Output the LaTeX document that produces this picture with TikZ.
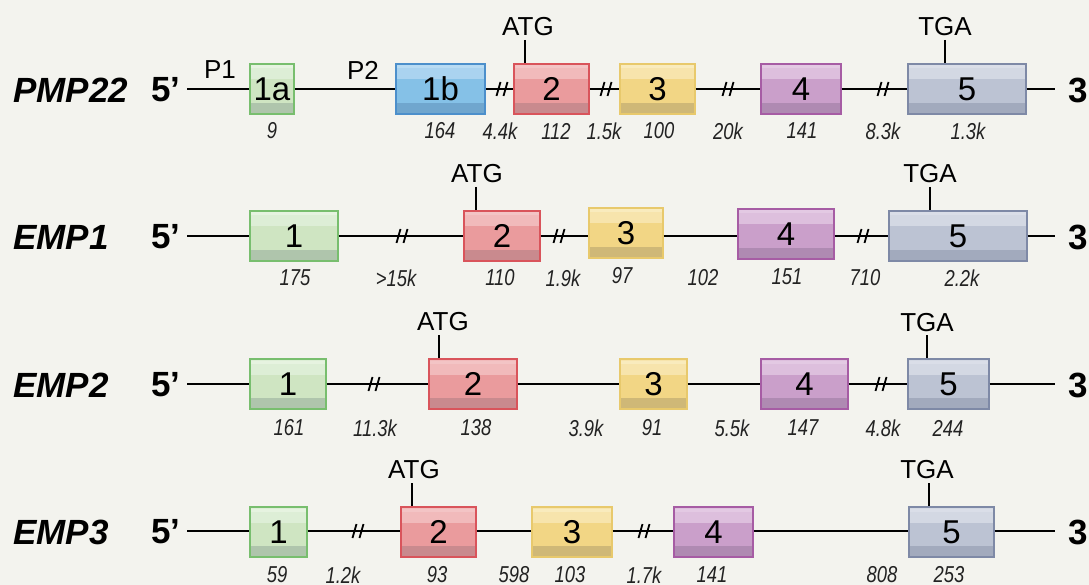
\documentclass[tikz,border=0pt]{standalone}
\usepackage{fontspec}
\setmainfont{Liberation Sans}
\newfontfamily\numfont[FakeStretch=0.8]{Liberation Sans}
\usetikzlibrary{calc}
\definecolor{bg}{HTML}{F3F3EE}
\definecolor{numcol}{HTML}{222222}
\definecolor{greenbase}{HTML}{CFE5C2}\definecolor{greenlight}{HTML}{DDEED6}\definecolor{greentop}{HTML}{E6F3E0}\definecolor{greendark}{HTML}{AFC5AC}\definecolor{greenline}{HTML}{78BE6E}
\definecolor{bluebase}{HTML}{85C1E7}\definecolor{bluelight}{HTML}{AAD3F0}\definecolor{bluetop}{HTML}{B8DBF3}\definecolor{bluedark}{HTML}{70A6CE}\definecolor{blueline}{HTML}{4C8FCB}
\definecolor{redbase}{HTML}{EA9B9D}\definecolor{redlight}{HTML}{F1BABB}\definecolor{redtop}{HTML}{F3C4C5}\definecolor{reddark}{HTML}{C98A8E}\definecolor{redline}{HTML}{D9545B}
\definecolor{yellowbase}{HTML}{F2D685}\definecolor{yellowlight}{HTML}{F7E4AC}\definecolor{yellowtop}{HTML}{F9EBBD}\definecolor{yellowdark}{HTML}{CFB877}\definecolor{yellowline}{HTML}{E8C96C}
\definecolor{purplebase}{HTML}{CA9FCA}\definecolor{purplelight}{HTML}{DDBFDD}\definecolor{purpletop}{HTML}{E3C9E3}\definecolor{purpledark}{HTML}{AF8AB2}\definecolor{purpleline}{HTML}{A65CA4}
\definecolor{graybase}{HTML}{BCC3D3}\definecolor{graylight}{HTML}{D3D8E3}\definecolor{graytop}{HTML}{DADEE8}\definecolor{graydark}{HTML}{A2AABD}\definecolor{grayline}{HTML}{7E89A6}
\tikzset{
  exon/.style={draw=#1line, fill=#1base, line width=1.2pt, minimum height=50pt, inner sep=0pt,
    font=\fontsize{33}{36}\selectfont,
    path picture={
      \fill[#1light] (path picture bounding box.north west) rectangle ($(path picture bounding box.north east)!0.31!(path picture bounding box.south east)$);
      \fill[#1top] ($(path picture bounding box.north west)!0.03!(path picture bounding box.south west)$) rectangle ($(path picture bounding box.north east)!0.09!(path picture bounding box.south east)$);
      \fill[#1dark] ($(path picture bounding box.north west)!0.78!(path picture bounding box.south west)$) rectangle (path picture bounding box.south east);
    }},
  dna/.style={line width=2.3pt, draw=black},
  ticker/.style={line width=2pt, draw=black},
  num/.style={font=\numfont\itshape\fontsize{23}{25}\selectfont, text=numcol, inner sep=0pt},
  gene/.style={font=\bfseries\itshape\fontsize{35}{40}\selectfont, anchor=west, inner sep=0pt},
  prime/.style={font=\bfseries\fontsize{35}{40}\selectfont, inner sep=0pt},
  codon/.style={font=\fontsize{26}{29}\selectfont, inner sep=0pt},
  brk/.pic={\draw[line width=1.8pt] (-5.5,7) -- (-1.5,-7) (1.5,7) -- (5.5,-7);}
}
\begin{document}
\begin{tikzpicture}[x=1pt,y=-1pt]
\fill[bg] (0,0) rectangle (1089,585);
\useasboundingbox (0,0) rectangle (1089,585);

% ---------- Row 1: PMP22 ----------
\node[gene] (g1) at (13,90) {PMP22};
\node[prime] (p51) at (166,90) {5’};
\node[prime,anchor=west] (p31) at (1068,90) {3’};
\coordinate (s1) at (187,89);
\coordinate (f1) at (1055,89);
\node[exon=green, minimum width=44pt] (e1a) at (272,89) {1a};
\node[exon=blue, minimum width=89pt] (e1b) at (440.5,89) {1b};
\node[exon=red, minimum width=75pt] (e12) at (551.5,89) {2};
\node[exon=yellow, minimum width=75pt] (e13) at (657.5,89) {3};
\node[exon=purple, minimum width=80pt] (e14) at (801,89) {4};
\node[exon=gray, minimum width=118pt] (e15) at (967,89) {5};
\draw[dna] (s1) -- (e1a.west) (e1a.east) -- (e1b.west) (e1b.east) -- (e12.west)
  (e12.east) -- (e13.west) (e13.east) -- (e14.west) (e14.east) -- (e15.west) (e15.east) -- (f1);
\pic at (502,89) {brk}; \pic at (606,89) {brk}; \pic at (728,89) {brk}; \pic at (883,89) {brk};
\node[codon] (pp1) at (220,70) {P1};
\node[codon] (pp2) at (363,70) {P2};
\node[codon] (atg1) at (528,27) {ATG};
\coordinate (ta1) at (525,40);
\draw[ticker] (ta1) -- (ta1 |- e12.north);
\node[codon] (tga1) at (945,27) {TGA};
\coordinate (tt1) at (945,40);
\draw[ticker] (tt1) -- (tt1 |- e15.north);
\node[num] (n11) at (272,131) {9};
\node[num] (n12) at (440,131) {164};
\node[num] (n13) at (500,131) {4.4k};
\node[num] (n14) at (556,131) {112};
\node[num] (n15) at (604,131) {1.5k};
\node[num] (n16) at (659,131) {100};
\node[num] (n17) at (728,131) {20k};
\node[num] (n18) at (802,131) {141};
\node[num] (n19) at (883,131) {8.3k};
\node[num] (n110) at (968,131) {1.3k};

% ---------- Row 2: EMP1 ----------
\node[gene] (g2) at (13,237) {EMP1};
\node[prime] (p52) at (166,237) {5’};
\node[prime,anchor=west] (p32) at (1068,237) {3’};
\coordinate (s2) at (187,236);
\coordinate (f2) at (1055,236);
\node[exon=green, minimum width=88pt] (e21) at (294,236) {1};
\node[exon=red, minimum width=76pt] (e22) at (502,236) {2};
\node[exon=yellow, minimum width=74pt] (e23) at (626,233) {3};
\node[exon=purple, minimum width=96pt] (e24) at (786,234) {4};
\node[exon=gray, minimum width=138pt] (e25) at (958,236) {5};
\draw[dna] (s2) -- (e21.west) (e21.east) -- (e22.west) (e22.east) -- (e23.west |- s2)
  (e23.east |- s2) -- (e24.west |- s2) (e24.east |- s2) -- (e25.west) (e25.east) -- (f2);
\pic at (402,236) {brk}; \pic at (559,236) {brk}; \pic at (863,236) {brk};
\node[codon] (atg2) at (477,174) {ATG};
\coordinate (ta2) at (476,187);
\draw[ticker] (ta2) -- (ta2 |- e22.north);
\node[codon] (tga2) at (930,174) {TGA};
\coordinate (tt2) at (930,187);
\draw[ticker] (tt2) -- (tt2 |- e25.north);
\node[num] (n21) at (295,278) {175};
\node[num] (n22) at (396,278) {>15k};
\node[num] (n23) at (500,278) {110};
\node[num] (n24) at (563,278) {1.9k};
\node[num] (n25) at (622,276) {97};
\node[num] (n26) at (703,278) {102};
\node[num] (n27) at (787,277) {151};
\node[num] (n28) at (865,278) {710};
\node[num] (n29) at (962,278) {2.2k};

% ---------- Row 3: EMP2 ----------
\node[gene] (g3) at (13,385) {EMP2};
\node[prime] (p53) at (166,385) {5’};
\node[prime,anchor=west] (p33) at (1068,385) {3’};
\coordinate (s3) at (187,384);
\coordinate (f3) at (1055,384);
\node[exon=green, minimum width=76pt] (e31) at (288,384) {1};
\node[exon=red, minimum width=88pt] (e32) at (473,384) {2};
\node[exon=yellow, minimum width=67pt] (e33) at (653.5,384) {3};
\node[exon=purple, minimum width=87pt] (e34) at (804.5,384) {4};
\node[exon=gray, minimum width=81pt] (e35) at (948.5,384) {5};
\draw[dna] (s3) -- (e31.west) (e31.east) -- (e32.west) (e32.east) -- (e33.west)
  (e33.east) -- (e34.west) (e34.east) -- (e35.west) (e35.east) -- (f3);
\pic at (374,384) {brk}; \pic at (881,384) {brk};
\node[codon] (atg3) at (443,322) {ATG};
\coordinate (ta3) at (439,335);
\draw[ticker] (ta3) -- (ta3 |- e32.north);
\node[codon] (tga3) at (927,323) {TGA};
\coordinate (tt3) at (927,335);
\draw[ticker] (tt3) -- (tt3 |- e35.north);
\node[num] (n31) at (289,428) {161};
\node[num] (n32) at (375,428) {11.3k};
\node[num] (n33) at (476,428) {138};
\node[num] (n34) at (586,428) {3.9k};
\node[num] (n35) at (652,428) {91};
\node[num] (n36) at (732,428) {5.5k};
\node[num] (n37) at (803,428) {147};
\node[num] (n38) at (883,428) {4.8k};
\node[num] (n39) at (948,428) {244};

% ---------- Row 4: EMP3 ----------
\node[gene] (g4) at (13,532) {EMP3};
\node[prime] (p54) at (166,532) {5’};
\node[prime,anchor=west] (p34) at (1068,532) {3’};
\coordinate (s4) at (187,531);
\coordinate (f4) at (1055,531);
\node[exon=green, minimum width=57pt] (e41) at (278.5,532) {1};
\node[exon=red, minimum width=75pt] (e42) at (438.5,532) {2};
\node[exon=yellow, minimum width=80pt] (e43) at (572,532) {3};
\node[exon=purple, minimum width=79pt] (e44) at (713.5,532) {4};
\node[exon=gray, minimum width=85pt] (e45) at (951.5,532) {5};
\draw[dna] (s4) -- (e41.west |- s4) (e41.east |- s4) -- (e42.west |- s4) (e42.east |- s4) -- (e43.west |- s4)
  (e43.east |- s4) -- (e44.west |- s4) (e44.east |- s4) -- (e45.west |- s4) (e45.east |- s4) -- (f4);
\pic at (358,531) {brk}; \pic at (644,531) {brk};
\node[codon] (atg4) at (414,470) {ATG};
\coordinate (ta4) at (412,483);
\draw[ticker] (ta4) -- (ta4 |- e42.north);
\node[codon] (tga4) at (927,470) {TGA};
\coordinate (tt4) at (928.5,483);
\draw[ticker] (tt4) -- (tt4 |- e45.north);
\node[num] (n41) at (277,575) {59};
\node[num] (n42) at (343,575) {1.2k};
\node[num] (n43) at (437,575) {93};
\node[num] (n44) at (514,575) {598};
\node[num] (n45) at (570,575) {103};
\node[num] (n46) at (644,575) {1.7k};
\node[num] (n47) at (712,575) {141};
\node[num] (n48) at (882,575) {808};
\node[num] (n49) at (949,575) {253};
\end{tikzpicture}
\end{document}
